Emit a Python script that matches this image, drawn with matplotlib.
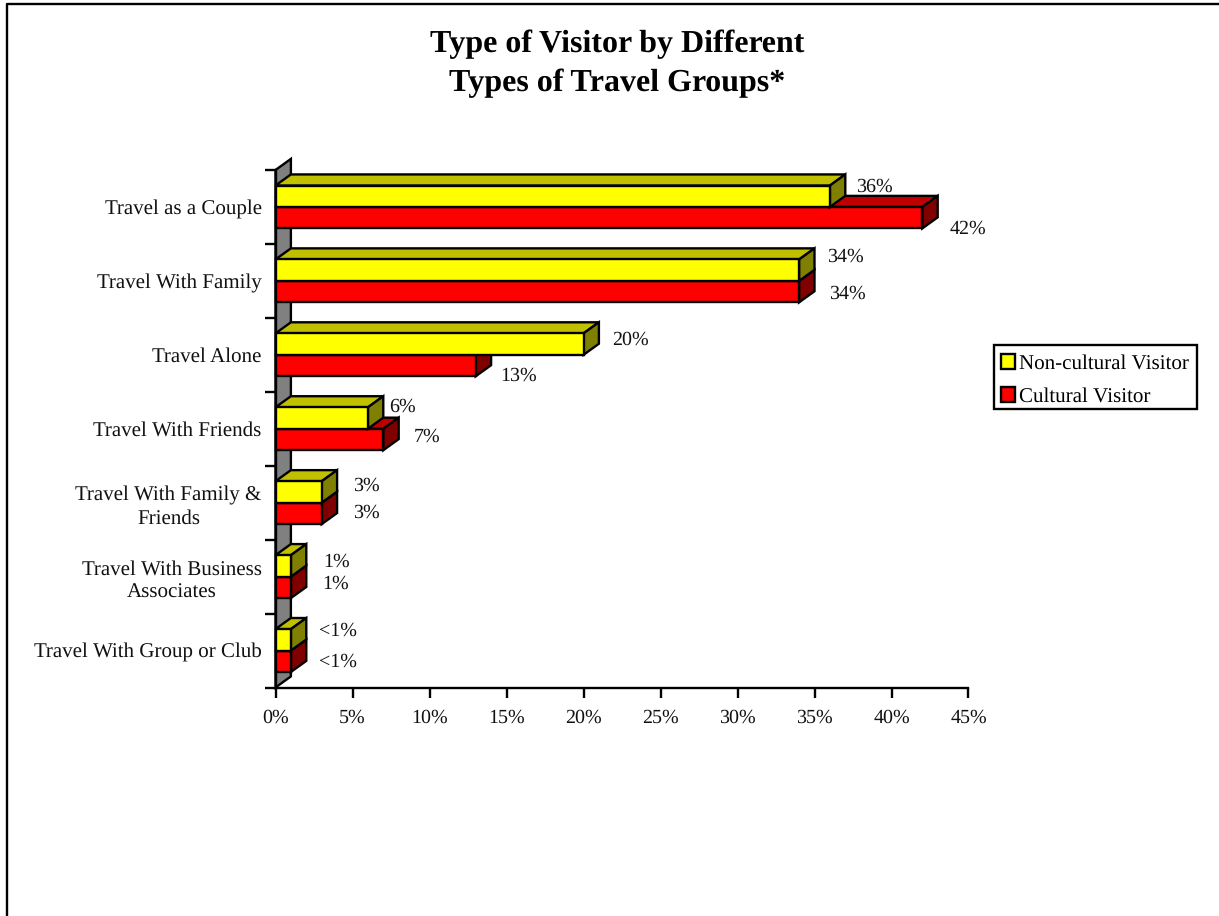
import matplotlib
matplotlib.use('Agg')
import matplotlib.pyplot as plt
from matplotlib.patches import Patch, Rectangle

categories = ['Travel as a Couple', 'Travel With Family', 'Travel Alone', 'Travel With Friends',
              'Travel With Family &\nFriends', 'Travel With Business\nAssociates', 'Travel With Group or Club']
non_cultural = [36, 34, 20, 6, 3, 1, 1]
cultural = [42, 34, 13, 7, 3, 1, 1]
non_cultural_labels = ['36%', '34%', '20%', '6%', '3%', '1%', '<1%']
cultural_labels = ['42%', '34%', '13%', '7%', '3%', '1%', '<1%']
x_ticks = [0, 5, 10, 15, 20, 25, 30, 35, 40, 45]

# label offsets in pixels from the end of each bar, hand placed like the original
non_cultural_offsets = [(44, 9), (46, 13), (47, 4), (35, 11), (45, 6), (46, 4), (47, 9)]
cultural_offsets = [(46, -11), (48, -2), (43, -10), (44, 3), (45, 0), (45, 3), (47, -1)]

W, H = 1219, 916
BAR_H = 0.29
DX = 1.0    # depth of the 3d effect, x units
DY = 0.15   # depth of the 3d effect, category units
LW = 1.7
TEXT = '#111111'

plt.rcParams['font.family'] = ['Liberation Serif', 'DejaVu Serif']
plt.rcParams['text.hinting'] = 'no_hinting'
plt.rcParams['text.hinting_factor'] = 1

fig = plt.figure(figsize=(W / 100, H / 100), dpi=100)
# page frame, only the top and left edges show in the original
fig.add_artist(plt.Line2D([6.5 / W, 6.5 / W, 1], [0, 1 - 3.5 / H, 1 - 3.5 / H], transform=fig.transFigure,
                          color='black', linewidth=1.7))
ax = fig.add_axes([275.5 / W, 1 - 687.5 / H, (968.5 - 275.5) / W, (687.5 - 170) / H])
ax.set_xlim(0, 45)
ax.set_ylim(len(categories), 0)


def draw_bar(y0, y1, value, front, top, side):
    # top face, side face, then the front
    ax.fill([0, DX, value + DX, value], [y0, y0 - DY, y0 - DY, y0], facecolor=top,
            edgecolor='black', linewidth=LW, clip_on=False, zorder=3)
    ax.fill([value, value + DX, value + DX, value], [y0, y0 - DY, y1 - DY, y1], facecolor=side,
            edgecolor='black', linewidth=LW, clip_on=False, zorder=3)
    ax.fill([0, value, value, 0], [y0, y0, y1, y1], facecolor=front,
            edgecolor='black', linewidth=LW, clip_on=False, zorder=3)


# back wall
n = len(categories)
ax.fill([0, DX, DX, 0], [n, n - DY, -DY, 0], facecolor='#808080', edgecolor='black',
        linewidth=LW, clip_on=False, zorder=2)

for i in range(n - 1, -1, -1):
    mid = i + 0.5
    draw_bar(mid, mid + BAR_H, cultural[i], '#FF0000', '#C00000', '#800000')
    draw_bar(mid - BAR_H, mid, non_cultural[i], '#FFFF00', '#C0C000', '#808000')
    ax.annotate(non_cultural_labels[i], xy=(non_cultural[i], mid - BAR_H / 2),
                xytext=non_cultural_offsets[i], textcoords='offset pixels',
                ha='center', va='center', fontsize=14.2, color=TEXT, zorder=5)
    ax.annotate(cultural_labels[i], xy=(cultural[i], mid + BAR_H / 2),
                xytext=cultural_offsets[i], textcoords='offset pixels',
                ha='center', va='center', fontsize=14.2, color=TEXT, zorder=5)

ax.set_xticks(x_ticks)
ax.set_xticklabels([f'{t}%' for t in x_ticks], fontsize=14.2, color=TEXT)
ax.set_yticks(range(n + 1))
ax.set_yticklabels([])
ax.set_yticks([i + 0.5 for i in range(n)], minor=True)
ax.set_yticklabels(categories, minor=True, fontsize=15.3, color=TEXT, multialignment='center', linespacing=1.3)
ax.tick_params(axis='x', length=7.5, width=LW, pad=8)
ax.tick_params(axis='y', which='major', length=8, width=LW)
ax.tick_params(axis='y', which='minor', length=0, pad=10)
ax.spines['top'].set_visible(False)
ax.spines['right'].set_visible(False)
ax.spines['left'].set_linewidth(LW)
ax.spines['bottom'].set_linewidth(LW)
ax.patch.set_visible(False)

fig.text(617 / W, 1 - 63.5 / H, 'Type of Visitor by Different\nTypes of Travel Groups*', ha='center', va='center',
         fontsize=23, fontweight='bold', linespacing=1.41)

# legend box drawn apart so the rows can sit low in it, as they do in the original
fig.add_artist(Rectangle((994 / W, 1 - 409 / H), 203 / W, 64 / H, transform=fig.transFigure,
                         facecolor='white', edgecolor='black', linewidth=LW))
handles = [Patch(facecolor='#FFFF00', edgecolor='black', linewidth=LW, label='Non-cultural Visitor'),
           Patch(facecolor='#FF0000', edgecolor='black', linewidth=LW, label='Cultural Visitor')]
fig.legend(handles=handles, loc='upper left', bbox_to_anchor=(994 / W, 1 - 347.5 / H), fontsize=15.0,
           frameon=False, handlelength=0.7, handleheight=0.7, handletextpad=0.2, borderpad=0.32,
           labelspacing=0.66, borderaxespad=0)

plt.savefig('out.png', dpi=100)
plt.close()
